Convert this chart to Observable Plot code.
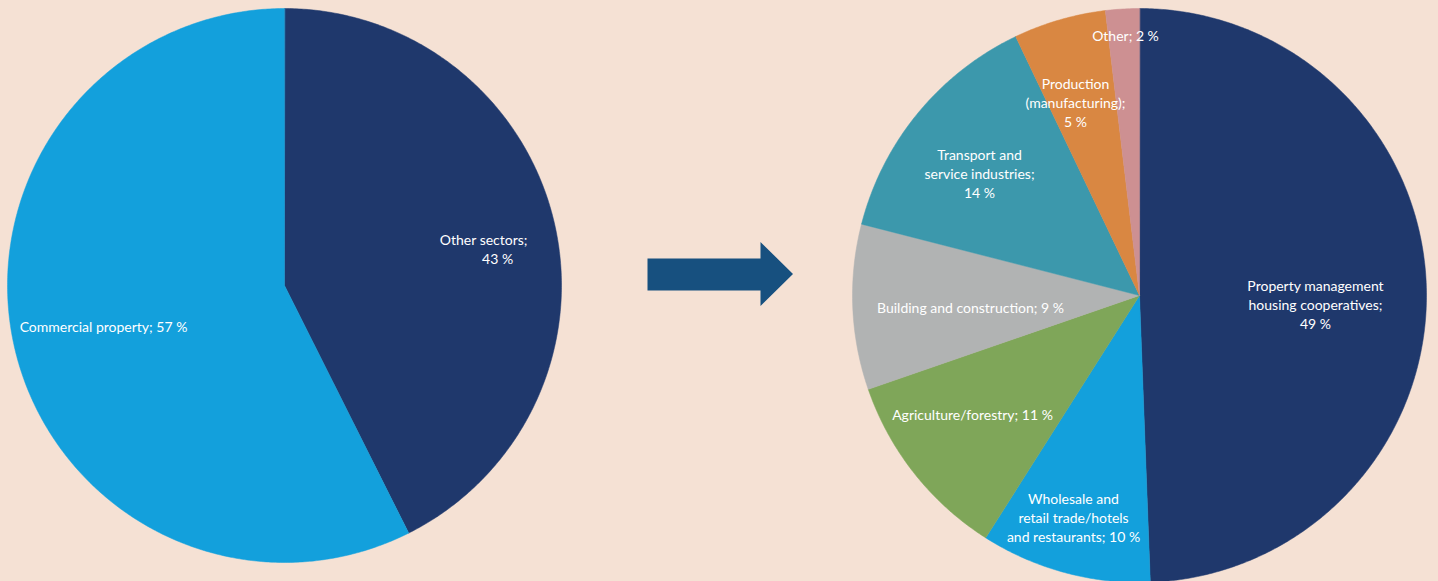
<!DOCTYPE html>
<html>
<head>
<meta charset="utf-8">
<script src="https://cdn.jsdelivr.net/npm/d3@7"></script>
<script src="https://cdn.jsdelivr.net/npm/@observablehq/plot@0.6"></script>
<style>
  html, body { margin: 0; padding: 0; background: #f5e1d4; }
  #chart svg { display: block; }
</style>
</head>
<body>
<div id="chart"></div>
<script>
// ---- Data (shares; labels show rounded figures) ----
const leftCategories = ["Other sectors", "Commercial property"];
const leftValues = [42.6, 57.4];
const leftColors = ["#1f386c", "#13a0dc"];

const rightCategories = [
  "Property management housing cooperatives",
  "Wholesale and retail trade/hotels and restaurants",
  "Agriculture/forestry",
  "Building and construction",
  "Transport and service industries",
  "Production (manufacturing)",
  "Other"
];
const rightValues = [49.4, 9.6, 10.7, 9.3, 13.9, 5.2, 1.9];
const rightColors = ["#1f386c", "#13a0dc", "#7fa659", "#b1b3b3", "#3c98ac", "#d98742", "#cd9092"];

// label text, as line-broken in the reference
const leftLabels = ["Other sectors;\n43 %\u00a0\u00a0\u00a0\u00a0", "Commercial property; 57 %"];
const rightLabels = [
  "Property management\nhousing cooperatives;\n49 %",
  "Wholesale and\nretail trade/hotels\nand restaurants; 10 %",
  "Agriculture/forestry; 11 %",
  "Building and construction; 9 %",
  "Transport and\nservice industries;\n14 %",
  "Production\n(manufacturing);\n5 %",
  "Other; 2 %"
];

// ---- Layout ----
const W = 1438, H = 581;
const leftPie = {cx: 284, cy: 285, r: 277};
const rightPie = {cx: 1139, cy: 295, r: 287};
// label anchors (pixel layout)
const leftLabelPos = [{x: 527, y: 248, anchor: "end"}, {x: 103, y: 325, anchor: "middle"}];
const rightLabelPos = [
  {x: 1315, y: 303}, {x: 1073, y: 516}, {x: 972, y: 413}, {x: 970, y: 306},
  {x: 979, y: 172}, {x: 1075, y: 101}, {x: 1125, y: 34}
];
const arrowShape = [[647, 258], [760, 258], [760, 241.5], [792.5, 273.5], [760, 305.5], [760, 290], [647, 290]];

function slicePoints(values, colors, pie, prefix) {
  const total = d3.sum(values);
  const pts = [];
  let acc = 0;
  values.forEach((v, i) => {
    const a0 = acc / total * 2 * Math.PI;
    acc += v;
    const a1 = acc / total * 2 * Math.PI;
    const key = prefix + i;
    pts.push({key, color: colors[i], x: pie.cx, y: pie.cy});
    const n = Math.max(2, Math.ceil((a1 - a0) / (Math.PI / 360)));
    for (let k = 0; k <= n; k++) {
      const a = a0 + (a1 - a0) * k / n;
      pts.push({key, color: colors[i], x: pie.cx + pie.r * Math.sin(a), y: pie.cy - pie.r * Math.cos(a)});
    }
  });
  return pts;
}

const pts = [
  ...slicePoints(leftValues, leftColors, leftPie, "L"),
  ...slicePoints(rightValues, rightColors, rightPie, "R")
];

const labels = [
  ...leftLabels.map((t, i) => ({text: t, ...leftLabelPos[i]})),
  ...rightLabels.map((t, i) => ({text: t, anchor: "middle", ...rightLabelPos[i]}))
];

const arrow = arrowShape.map(([x, y]) => ({x, y}));

const chart = Plot.plot({
  width: W,
  height: H,
  margin: 0,
  style: {background: "#f5e1d4", fontFamily: "Lato, 'Open Sans', sans-serif"},
  x: {domain: [0, W], range: [0, W], axis: null},
  y: {domain: [0, H], range: [0, H], axis: null},
  color: {type: "identity"},
  marks: [
    Plot.line(pts, {x: "x", y: "y", z: "key", fill: "color", stroke: "color", strokeWidth: 0.5, curve: "linear-closed"}),
    Plot.line(arrow, {x: "x", y: "y", fill: "#17507f", stroke: "none", curve: "linear-closed"}),
    Plot.text(labels.filter(d => d.anchor === "end"), {x: "x", y: "y", text: "text", fill: "white", fontSize: 14, textAnchor: "end", lineHeight: 1.36}),
    Plot.text(labels.filter(d => d.anchor !== "end"), {x: "x", y: "y", text: "text", fill: "white", fontSize: 14, textAnchor: "middle", lineHeight: 1.36})
  ]
});
document.getElementById("chart").appendChild(chart);
</script>
</body>
</html>
